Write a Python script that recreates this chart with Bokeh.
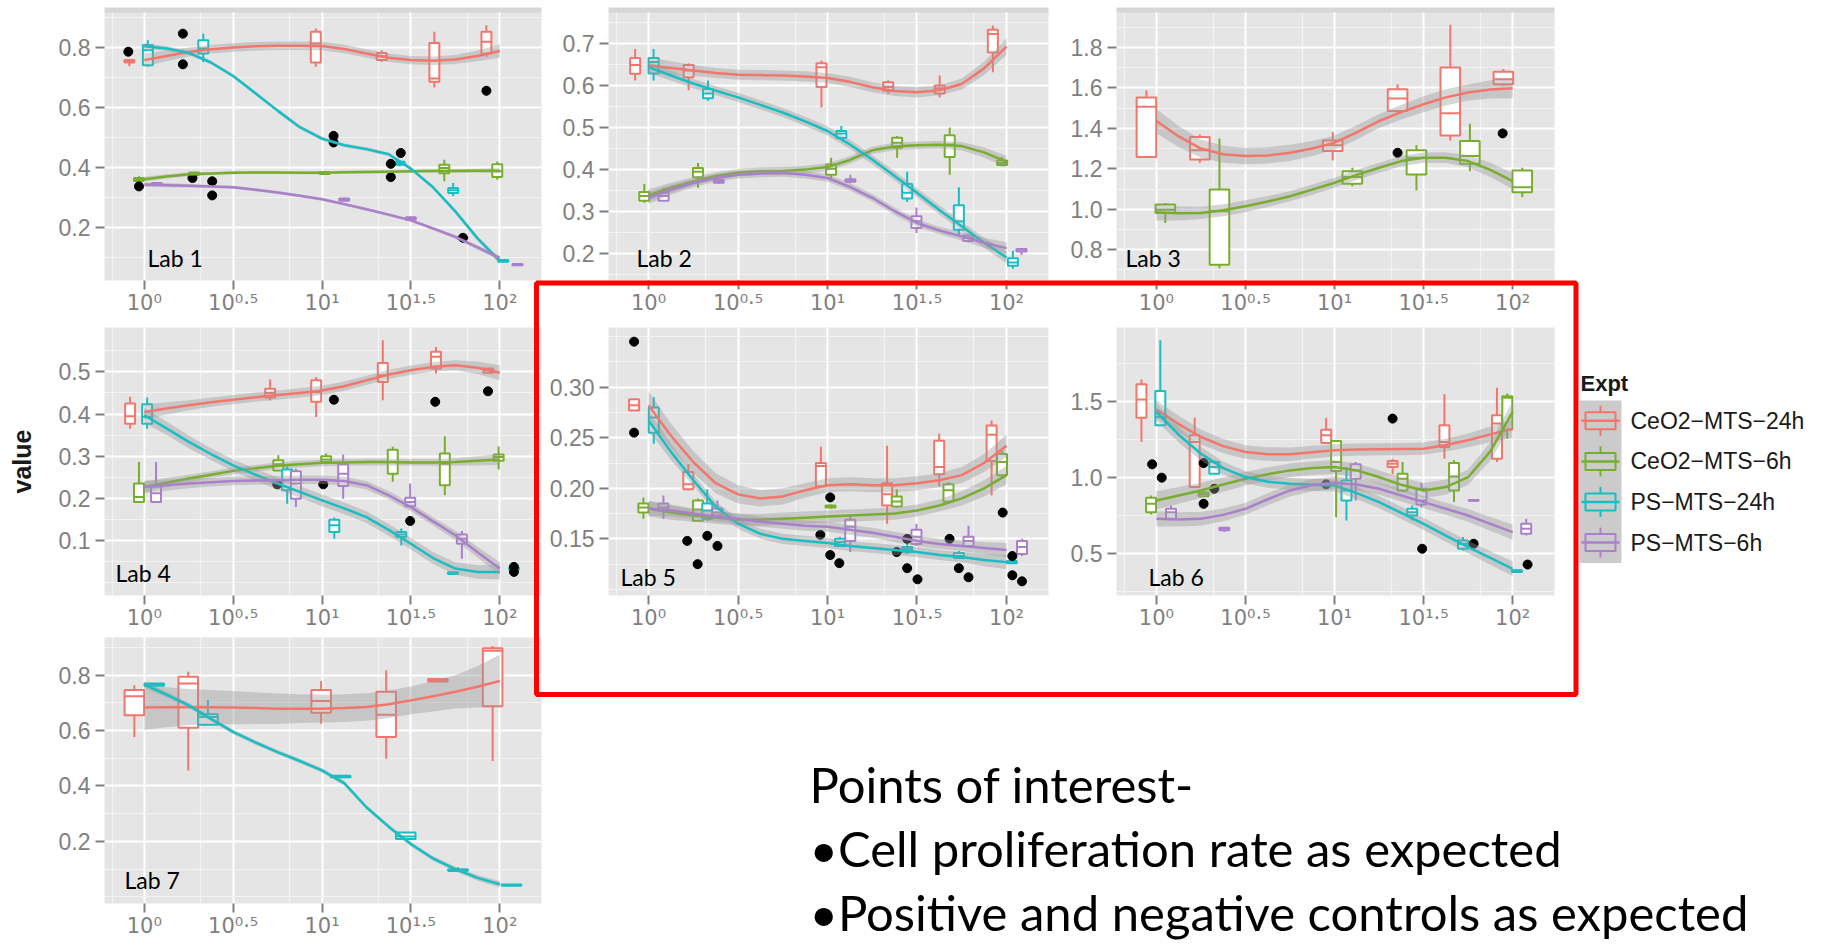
from math import log10

from bokeh.core.properties import value
from bokeh.embed import file_html
from bokeh.layouts import column, row
from bokeh.models import BoxAnnotation, ColumnDataSource, FixedTicker, Label, NumeralTickFormatter, Range1d
from bokeh.plotting import figure
from bokeh.resources import INLINE

# ---------------------------------------------------------------- data
EXPT_LABELS = ["CeO2−MTS−24h", "CeO2−MTS−6h", "PS−MTS−24h", "PS−MTS−6h"]
EXPT_KEYS = ["ceo2_24h", "ceo2_6h", "ps_24h", "ps_6h"]
EXPT_COLORS = ["#F2766C", "#78AE2E", "#17BEC4", "#AA80CC"]

X_TICKS = [0, 0.5, 1, 1.5, 2]                      # log10(dose)
X_TICK_LABELS = ["10⁰", "10⁰·⁵", "10¹", "10¹·⁵", "10²"]
FIT_LOGDOSE = [0, 0.125, 0.25, 0.375, 0.5, 0.625, 0.75, 0.875, 1.0,
               1.125, 1.25, 1.375, 1.5, 1.625, 1.75, 1.875, 2.0]

# box rows: (log10 dose, lower whisker, Q1, median, Q3, upper whisker)
LAB1_BOXES = {
    "ceo2_24h": [(-0.084, 0.738, 0.750, 0.755, 0.758, 0.760), (0.965, 0.736, 0.750, 0.813, 0.852, 0.863),
                 (1.336, 0.752, 0.758, 0.771, 0.782, 0.791), (1.632, 0.667, 0.686, 0.697, 0.815, 0.852),
                 (1.925, 0.769, 0.780, 0.819, 0.852, 0.874)],
    "ceo2_6h": [(-0.03, 0.352, 0.356, 0.360, 0.366, 0.372), (0.28, 0.373, 0.376, 0.380, 0.384, 0.387),
                (1.015, 0.376, 0.379, 0.382, 0.385, 0.389), (1.688, 0.355, 0.382, 0.399, 0.410, 0.427),
                (1.986, 0.360, 0.369, 0.388, 0.412, 0.421)],
    "ps_24h": [(0.02, 0.736, 0.741, 0.791, 0.808, 0.824), (0.332, 0.752, 0.780, 0.797, 0.824, 0.846),
               (1.437, 0.405, 0.410, 0.415, 0.420, 0.425), (1.738, 0.305, 0.316, 0.325, 0.333, 0.349),
               (2.02, 0.085, 0.087, 0.090, 0.093, 0.096)],
    "ps_6h": [(0.07, 0.343, 0.345, 0.347, 0.349, 0.351), (1.125, 0.288, 0.290, 0.294, 0.298, 0.300),
              (1.50, 0.224, 0.227, 0.231, 0.235, 0.238), (1.79, 0.162, 0.165, 0.167, 0.169, 0.172),
              (2.10, 0.074, 0.076, 0.078, 0.080, 0.082)],
}
LAB1_FIT = {
    "ceo2_24h": [0.758, 0.772, 0.785, 0.794, 0.800, 0.804, 0.806, 0.806, 0.805, 0.795, 0.780, 0.766, 0.758,
                 0.756, 0.760, 0.772, 0.788],
    "ceo2_6h": [0.362, 0.371, 0.378, 0.381, 0.383, 0.384, 0.384, 0.383, 0.383, 0.385, 0.386, 0.387, 0.388,
                0.389, 0.389, 0.390, 0.390],
    "ps_24h": [0.804, 0.797, 0.782, 0.750, 0.705, 0.648, 0.590, 0.535, 0.497, 0.475, 0.462, 0.445, 0.397,
               0.335, 0.255, 0.165, 0.090],
    "ps_6h": [0.344, 0.342, 0.340, 0.338, 0.335, 0.327, 0.318, 0.307, 0.295, 0.279, 0.262, 0.244, 0.225,
              0.198, 0.170, 0.135, 0.100],
}
LAB1_BAND = {
    "ceo2_24h": [0.022, 0.018, 0.015, 0.014, 0.014, 0.014, 0.014, 0.014, 0.014, 0.014, 0.014, 0.014, 0.014,
                 0.014, 0.015, 0.018, 0.022],
    "ceo2_6h": [0.008, 0.007, 0.006, 0.005, 0.005, 0.005, 0.005, 0.005, 0.005, 0.005, 0.005, 0.005, 0.005,
                0.005, 0.006, 0.007, 0.008],
    "ps_24h": [0.010, 0.008, 0.007, 0.006, 0.006, 0.006, 0.006, 0.006, 0.006, 0.006, 0.006, 0.006, 0.006,
               0.006, 0.007, 0.008, 0.010],
    "ps_6h": [0.008, 0.007, 0.006, 0.005, 0.005, 0.005, 0.005, 0.005, 0.005, 0.005, 0.005, 0.005, 0.005,
              0.005, 0.006, 0.007, 0.008],
}
LAB1_OUT_X = [-0.09, -0.03, 0.217, 0.217, 0.271, 0.382, 0.382, 1.065, 1.065, 1.387, 1.387, 1.443, 1.793, 1.925]
LAB1_OUT_Y = [0.786, 0.338, 0.846, 0.744, 0.366, 0.355, 0.308, 0.506, 0.484, 0.413, 0.369, 0.449, 0.167, 0.656]

LAB2_BOXES = {
    "ceo2_24h": [(-0.075, 0.611, 0.627, 0.648, 0.665, 0.686), (0.224, 0.588, 0.619, 0.635, 0.648, 0.652),
                 (0.966, 0.547, 0.596, 0.643, 0.652, 0.659), (1.339, 0.579, 0.587, 0.596, 0.607, 0.612),
                 (1.627, 0.571, 0.580, 0.593, 0.599, 0.623), (1.924, 0.631, 0.678, 0.722, 0.732, 0.742)],
    "ceo2_6h": [(-0.024, 0.320, 0.325, 0.336, 0.346, 0.365), (0.276, 0.356, 0.381, 0.394, 0.403, 0.415),
                (1.020, 0.375, 0.387, 0.401, 0.411, 0.427), (1.389, 0.427, 0.451, 0.463, 0.475, 0.479),
                (1.683, 0.387, 0.429, 0.459, 0.481, 0.499), (1.976, 0.407, 0.410, 0.415, 0.421, 0.429)],
    "ps_24h": [(0.028, 0.611, 0.628, 0.655, 0.665, 0.686), (0.332, 0.563, 0.569, 0.580, 0.591, 0.611),
               (1.077, 0.471, 0.474, 0.485, 0.491, 0.503), (1.445, 0.322, 0.330, 0.344, 0.365, 0.394),
               (1.734, 0.240, 0.256, 0.276, 0.314, 0.357), (2.036, 0.163, 0.170, 0.178, 0.188, 0.206)],
    "ps_6h": [(0.084, 0.324, 0.325, 0.336, 0.344, 0.356), (0.392, 0.366, 0.368, 0.371, 0.374, 0.376),
              (1.128, 0.368, 0.370, 0.373, 0.376, 0.387), (1.497, 0.248, 0.260, 0.276, 0.288, 0.309),
              (1.786, 0.226, 0.229, 0.236, 0.242, 0.245), (2.084, 0.196, 0.204, 0.208, 0.210, 0.211)],
}
LAB2_FIT = {
    "ceo2_24h": [0.647, 0.641, 0.635, 0.629, 0.625, 0.624, 0.623, 0.621, 0.617, 0.608, 0.595, 0.586, 0.583,
                 0.588, 0.603, 0.640, 0.692],
    "ceo2_6h": [0.338, 0.356, 0.371, 0.384, 0.392, 0.395, 0.396, 0.399, 0.405, 0.422, 0.445, 0.454, 0.457,
                0.458, 0.455, 0.440, 0.418],
    "ps_24h": [0.643, 0.623, 0.604, 0.587, 0.571, 0.553, 0.535, 0.514, 0.491, 0.459, 0.423, 0.384, 0.344,
               0.303, 0.264, 0.225, 0.190],
    "ps_6h": [0.332, 0.351, 0.367, 0.379, 0.387, 0.390, 0.391, 0.387, 0.379, 0.358, 0.332, 0.300, 0.272,
              0.254, 0.240, 0.225, 0.212],
}
LAB2_BAND = {
    "ceo2_24h": [0.020, 0.016, 0.013, 0.012, 0.012, 0.012, 0.012, 0.012, 0.012, 0.012, 0.012, 0.012, 0.012,
                 0.012, 0.013, 0.016, 0.020],
    "ceo2_6h": [0.014, 0.012, 0.010, 0.009, 0.009, 0.009, 0.009, 0.009, 0.009, 0.009, 0.009, 0.009, 0.009,
                0.009, 0.010, 0.012, 0.014],
    "ps_24h": [0.014, 0.012, 0.011, 0.011, 0.011, 0.011, 0.011, 0.011, 0.011, 0.011, 0.011, 0.011, 0.011,
               0.011, 0.011, 0.012, 0.014],
    "ps_6h": [0.014, 0.012, 0.010, 0.009, 0.009, 0.009, 0.009, 0.009, 0.009, 0.009, 0.009, 0.009, 0.009,
              0.009, 0.010, 0.012, 0.014],
}
LAB2_OUT_X = []
LAB2_OUT_Y = []

LAB3_BOXES = {
    "ceo2_24h": [(-0.056, 1.258, 1.258, 1.506, 1.552, 1.588), (0.244, 1.230, 1.246, 1.291, 1.357, 1.370),
                 (0.99, 1.241, 1.288, 1.316, 1.340, 1.382), (1.354, 1.469, 1.486, 1.547, 1.593, 1.618),
                 (1.65, 1.340, 1.365, 1.474, 1.701, 1.912), (1.948, 1.610, 1.618, 1.643, 1.679, 1.693)],
    "ceo2_6h": [(0.05, 0.932, 0.982, 0.998, 1.023, 1.031), (0.354, 0.709, 0.726, 0.990, 1.098, 1.350),
                (1.10, 1.114, 1.126, 1.160, 1.188, 1.205), (1.46, 1.093, 1.172, 1.255, 1.291, 1.317),
                (1.76, 1.188, 1.225, 1.263, 1.337, 1.423), (2.054, 1.059, 1.084, 1.109, 1.192, 1.205)],
}
LAB3_FIT = {
    "ceo2_24h": [1.436, 1.360, 1.300, 1.272, 1.263, 1.266, 1.279, 1.300, 1.329, 1.380, 1.436, 1.480, 1.519,
                 1.553, 1.577, 1.592, 1.598],
    "ceo2_6h": [0.985, 0.980, 0.982, 0.995, 1.015, 1.038, 1.064, 1.097, 1.131, 1.170, 1.205, 1.238, 1.255,
                1.255, 1.238, 1.195, 1.139],
}
LAB3_BAND = {
    "ceo2_24h": [0.060, 0.052, 0.045, 0.042, 0.040, 0.040, 0.040, 0.037, 0.035, 0.035, 0.035, 0.037, 0.040,
                 0.040, 0.040, 0.045, 0.050],
    "ceo2_6h": [0.040, 0.035, 0.030, 0.030, 0.030, 0.027, 0.025, 0.025, 0.025, 0.025, 0.025, 0.025, 0.025,
                0.027, 0.030, 0.035, 0.040],
}
LAB3_OUT_X = [1.354, 1.944]
LAB3_OUT_Y = [1.279, 1.375]

LAB4_BOXES = {
    "ceo2_24h": [(-0.08, 0.365, 0.377, 0.395, 0.425, 0.441), (0.708, 0.433, 0.439, 0.450, 0.460, 0.482),
                 (0.967, 0.393, 0.429, 0.452, 0.480, 0.488), (1.342, 0.433, 0.476, 0.492, 0.521, 0.575),
                 (1.641, 0.496, 0.508, 0.536, 0.548, 0.559), (1.936, 0.496, 0.498, 0.504, 0.508, 0.510)],
    "ceo2_6h": [(-0.03, 0.191, 0.191, 0.203, 0.235, 0.286), (0.754, 0.266, 0.266, 0.281, 0.290, 0.302),
                (1.023, 0.281, 0.286, 0.292, 0.300, 0.306), (1.398, 0.239, 0.258, 0.286, 0.315, 0.322),
                (1.691, 0.207, 0.231, 0.282, 0.306, 0.347), (1.994, 0.268, 0.289, 0.298, 0.304, 0.323)],
    "ps_24h": [(0.016, 0.365, 0.377, 0.393, 0.423, 0.439), (0.804, 0.187, 0.219, 0.243, 0.268, 0.276),
               (1.069, 0.104, 0.120, 0.136, 0.149, 0.154), (1.446, 0.088, 0.108, 0.114, 0.120, 0.128),
               (1.737, 0.019, 0.020, 0.022, 0.024, 0.026), (2.08, 0.030, 0.031, 0.033, 0.035, 0.036)],
    "ps_6h": [(0.066, 0.191, 0.191, 0.212, 0.228, 0.286), (0.853, 0.179, 0.199, 0.235, 0.264, 0.270),
              (1.119, 0.199, 0.229, 0.258, 0.281, 0.304), (1.496, 0.179, 0.181, 0.191, 0.201, 0.235),
              (1.787, 0.056, 0.092, 0.104, 0.114, 0.122)],
}
LAB4_FIT = {
    "ceo2_24h": [0.405, 0.413, 0.421, 0.428, 0.434, 0.440, 0.445, 0.450, 0.456, 0.466, 0.480, 0.494, 0.504,
                 0.512, 0.516, 0.510, 0.498],
    "ceo2_6h": [0.227, 0.237, 0.247, 0.256, 0.265, 0.271, 0.277, 0.281, 0.284, 0.285, 0.286, 0.286, 0.285,
                0.285, 0.286, 0.289, 0.292],
    "ps_24h": [0.397, 0.366, 0.334, 0.305, 0.278, 0.256, 0.235, 0.215, 0.195, 0.176, 0.155, 0.125, 0.092,
               0.058, 0.033, 0.025, 0.025],
    "ps_6h": [0.227, 0.231, 0.235, 0.238, 0.241, 0.242, 0.243, 0.244, 0.244, 0.241, 0.231, 0.207, 0.179,
              0.145, 0.112, 0.072, 0.033],
}
LAB4_BAND = {
    "ceo2_24h": [0.018, 0.015, 0.012, 0.011, 0.011, 0.011, 0.011, 0.011, 0.011, 0.011, 0.011, 0.011, 0.011,
                 0.011, 0.012, 0.015, 0.018],
    "ceo2_6h": [0.013, 0.011, 0.009, 0.008, 0.008, 0.008, 0.008, 0.008, 0.008, 0.008, 0.008, 0.008, 0.008,
                0.008, 0.009, 0.011, 0.013],
    "ps_24h": [0.018, 0.016, 0.015, 0.014, 0.014, 0.014, 0.014, 0.014, 0.014, 0.014, 0.014, 0.014, 0.014,
               0.014, 0.015, 0.016, 0.018],
    "ps_6h": [0.015, 0.013, 0.011, 0.010, 0.010, 0.010, 0.010, 0.010, 0.010, 0.010, 0.010, 0.010, 0.010,
              0.010, 0.011, 0.013, 0.015],
}
LAB4_OUT_X = [1.067, 1.637, 1.934, 0.748, 1.007, 1.496, 2.08, 2.08]
LAB4_OUT_Y = [0.434, 0.429, 0.454, 0.233, 0.233, 0.146, 0.037, 0.025]

LAB5_BOXES = {
    "ceo2_24h": [(-0.081, 0.277, 0.277, 0.282, 0.288, 0.288), (0.222, 0.198, 0.199, 0.204, 0.216, 0.224),
                 (0.963, 0.201, 0.202, 0.222, 0.225, 0.241), (1.333, 0.165, 0.183, 0.194, 0.205, 0.242),
                 (1.624, 0.202, 0.214, 0.221, 0.247, 0.254), (1.917, 0.193, 0.227, 0.253, 0.262, 0.267)],
    "ceo2_6h": [(-0.029, 0.170, 0.176, 0.181, 0.185, 0.191), (0.276, 0.167, 0.168, 0.179, 0.188, 0.190),
                (1.017, 0.180, 0.181, 0.182, 0.183, 0.184), (1.387, 0.181, 0.182, 0.187, 0.192, 0.199),
                (1.676, 0.185, 0.187, 0.198, 0.204, 0.206), (1.975, 0.212, 0.213, 0.226, 0.234, 0.237)],
    "ps_24h": [(0.029, 0.244, 0.255, 0.270, 0.280, 0.290), (0.328, 0.168, 0.170, 0.178, 0.185, 0.199),
               (1.069, 0.143, 0.143, 0.147, 0.150, 0.152), (1.445, 0.135, 0.137, 0.140, 0.142, 0.145),
               (1.734, 0.130, 0.131, 0.133, 0.136, 0.138), (2.03, 0.126, 0.126, 0.127, 0.128, 0.128)],
    "ps_6h": [(0.083, 0.170, 0.178, 0.181, 0.185, 0.193), (0.385, 0.170, 0.173, 0.176, 0.180, 0.188),
              (1.127, 0.137, 0.148, 0.162, 0.169, 0.174), (1.497, 0.143, 0.145, 0.152, 0.159, 0.165),
              (1.788, 0.141, 0.143, 0.148, 0.152, 0.163), (2.087, 0.133, 0.135, 0.142, 0.148, 0.150)],
}
LAB5_FIT = {
    "ceo2_24h": [0.282, 0.252, 0.226, 0.205, 0.194, 0.190, 0.192, 0.198, 0.203, 0.204, 0.203, 0.203, 0.205,
                 0.208, 0.213, 0.225, 0.242],
    "ceo2_6h": [0.180, 0.176, 0.173, 0.171, 0.169, 0.169, 0.170, 0.171, 0.172, 0.173, 0.174, 0.175, 0.178,
                0.183, 0.190, 0.200, 0.213],
    "ps_24h": [0.267, 0.236, 0.208, 0.182, 0.165, 0.155, 0.150, 0.148, 0.146, 0.143, 0.141, 0.139, 0.137,
               0.134, 0.132, 0.129, 0.127],
    "ps_6h": [0.180, 0.178, 0.175, 0.172, 0.170, 0.167, 0.165, 0.163, 0.162, 0.159, 0.156, 0.152, 0.148,
              0.145, 0.143, 0.141, 0.139],
}
LAB5_BAND = {
    "ceo2_24h": [0.014, 0.012, 0.011, 0.010, 0.009, 0.008, 0.008, 0.007, 0.007, 0.007, 0.007, 0.007, 0.007,
                 0.007, 0.008, 0.009, 0.011],
    "ceo2_6h": [0.008, 0.007, 0.006, 0.006, 0.006, 0.006, 0.006, 0.006, 0.006, 0.006, 0.006, 0.006, 0.006,
                0.006, 0.007, 0.008, 0.009],
    "ps_24h": [0.010, 0.008, 0.006, 0.005, 0.005, 0.005, 0.005, 0.005, 0.005, 0.005, 0.005, 0.005, 0.005,
               0.005, 0.005, 0.006, 0.007],
    "ps_6h": [0.007, 0.006, 0.005, 0.005, 0.005, 0.005, 0.005, 0.005, 0.005, 0.005, 0.005, 0.005, 0.005,
              0.005, 0.005, 0.006, 0.007],
}
LAB5_OUT_X = [-0.081, -0.081, 0.216, 0.274, 0.328, 0.385, 0.96, 1.015, 1.015, 1.066, 1.387, 1.445, 1.445,
              1.503, 1.682, 1.734, 1.788, 1.979, 2.033, 2.033, 2.087]
LAB5_OUT_Y = [0.345, 0.255, 0.148, 0.125, 0.153, 0.143, 0.154, 0.191, 0.134, 0.126, 0.137, 0.150, 0.121,
              0.110, 0.150, 0.121, 0.112, 0.176, 0.133, 0.114, 0.108]

LAB6_BOXES = {
    "ceo2_24h": [(-0.084, 1.232, 1.392, 1.511, 1.612, 1.643), (0.215, 0.935, 0.935, 1.232, 1.276, 1.392),
                 (0.953, 1.225, 1.225, 1.276, 1.313, 1.392), (1.326, 1.019, 1.067, 1.089, 1.107, 1.122),
                 (1.617, 1.122, 1.199, 1.232, 1.342, 1.546), (1.912, 1.100, 1.122, 1.353, 1.408, 1.590)],
    "ceo2_6h": [(-0.03, 0.755, 0.770, 0.825, 0.865, 0.880), (0.265, 0.870, 0.875, 0.887, 0.900, 0.905),
                (1.009, 0.737, 1.041, 1.100, 1.238, 1.243), (1.382, 0.902, 0.913, 0.990, 1.023, 1.100),
                (1.671, 0.836, 0.913, 1.005, 1.093, 1.111), (1.970, 1.254, 1.313, 1.524, 1.533, 1.551)],
    "ps_24h": [(0.022, 1.342, 1.342, 1.397, 1.568, 1.902), (0.325, 1.023, 1.023, 1.067, 1.100, 1.111),
               (1.067, 0.715, 0.847, 0.913, 0.979, 1.067), (1.436, 0.715, 0.748, 0.770, 0.792, 0.814),
               (1.721, 0.518, 0.529, 0.562, 0.584, 0.606), (2.024, 0.370, 0.375, 0.381, 0.387, 0.392)],
    "ps_6h": [(0.082, 0.715, 0.726, 0.770, 0.792, 0.814), (0.381, 0.640, 0.650, 0.660, 0.668, 0.672),
              (1.119, 0.847, 0.990, 1.045, 1.085, 1.100), (1.488, 0.803, 0.821, 0.847, 0.924, 0.962),
              (1.781, 0.843, 0.845, 0.847, 0.850, 0.852), (2.076, 0.616, 0.627, 0.660, 0.693, 0.726)],
}
LAB6_FIT = {
    "ceo2_24h": [1.445, 1.350, 1.265, 1.205, 1.166, 1.152, 1.151, 1.165, 1.177, 1.182, 1.184, 1.185, 1.188,
                 1.212, 1.243, 1.282, 1.320],
    "ceo2_6h": [0.847, 0.880, 0.913, 0.952, 0.990, 1.020, 1.045, 1.060, 1.067, 1.045, 1.001, 0.950, 0.913,
                0.935, 1.000, 1.170, 1.430],
    "ps_24h": [1.430, 1.280, 1.155, 1.060, 1.001, 0.970, 0.957, 0.950, 0.946, 0.895, 0.836, 0.765, 0.693,
               0.615, 0.540, 0.468, 0.397],
    "ps_6h": [0.726, 0.722, 0.726, 0.752, 0.792, 0.855, 0.913, 0.948, 0.964, 0.952, 0.924, 0.880, 0.836,
              0.792, 0.748, 0.693, 0.638],
}
LAB6_BAND = {
    "ceo2_24h": [0.060, 0.055, 0.050, 0.047, 0.045, 0.045, 0.045, 0.042, 0.040, 0.040, 0.040, 0.040, 0.040,
                 0.042, 0.045, 0.052, 0.060],
    "ceo2_6h": [0.060, 0.055, 0.050, 0.047, 0.045, 0.045, 0.045, 0.045, 0.045, 0.045, 0.045, 0.047, 0.050,
                0.050, 0.050, 0.060, 0.070],
    "ps_24h": [0.060, 0.052, 0.045, 0.042, 0.040, 0.040, 0.040, 0.040, 0.040, 0.040, 0.040, 0.040, 0.040,
               0.040, 0.040, 0.045, 0.050],
    "ps_6h": [0.050, 0.047, 0.045, 0.042, 0.040, 0.040, 0.040, 0.040, 0.040, 0.040, 0.040, 0.040, 0.040,
              0.040, 0.042, 0.045, 0.050],
}
LAB6_OUT_X = [-0.024, 0.03, 0.265, 0.265, 0.325, 0.953, 1.326, 1.492, 1.781, 2.084]
LAB6_OUT_Y = [1.085, 0.997, 1.093, 0.825, 0.924, 0.953, 1.386, 0.529, 0.562, 0.425]

LAB7_BOXES = {
    "ceo2_24h": [(-0.056, 0.577, 0.655, 0.724, 0.746, 0.764), (0.247, 0.456, 0.610, 0.770, 0.794, 0.812),
                 (0.995, 0.625, 0.664, 0.707, 0.746, 0.779), (1.361, 0.498, 0.577, 0.657, 0.740, 0.818),
                 (1.652, 0.774, 0.777, 0.782, 0.786, 0.790), (1.96, 0.490, 0.688, 0.888, 0.897, 0.905)],
    "ps_24h": [(0.056, 0.760, 0.762, 0.766, 0.770, 0.772), (0.358, 0.621, 0.621, 0.649, 0.659, 0.709),
               (1.105, 0.428, 0.431, 0.434, 0.437, 0.440), (1.471, 0.208, 0.208, 0.217, 0.232, 0.232),
               (1.765, 0.090, 0.093, 0.096, 0.099, 0.106), (2.066, 0.038, 0.040, 0.042, 0.044, 0.046)],
}
LAB7_FIT = {
    "ceo2_24h": [0.683, 0.684, 0.685, 0.684, 0.683, 0.681, 0.679, 0.679, 0.679, 0.681, 0.685, 0.695, 0.709,
                 0.724, 0.740, 0.758, 0.779],
    "ps_24h": [0.766, 0.730, 0.691, 0.642, 0.595, 0.557, 0.522, 0.490, 0.456, 0.410, 0.323, 0.253, 0.190,
               0.138, 0.100, 0.068, 0.045],
}
LAB7_BAND = {
    "ceo2_24h": [0.080, 0.072, 0.065, 0.062, 0.060, 0.057, 0.055, 0.052, 0.050, 0.050, 0.050, 0.050, 0.050,
                 0.055, 0.060, 0.075, 0.095],
    "ps_24h": [0.012, 0.010, 0.009, 0.008, 0.008, 0.008, 0.008, 0.008, 0.008, 0.008, 0.008, 0.008, 0.008,
               0.008, 0.009, 0.010, 0.012],
}
LAB7_OUT_X = []
LAB7_OUT_Y = []

# y ticks per panel (major, minor, label format)
LAB1_Y_TICKS, LAB1_Y_MINOR, LAB1_Y_FMT = [0.2, 0.4, 0.6, 0.8], [0.1, 0.3, 0.5, 0.7, 0.9], "0.0"
LAB2_Y_TICKS, LAB2_Y_MINOR, LAB2_Y_FMT = [0.2, 0.3, 0.4, 0.5, 0.6, 0.7], [0.15, 0.25, 0.35, 0.45, 0.55, 0.65, 0.75], "0.0"
LAB3_Y_TICKS, LAB3_Y_MINOR, LAB3_Y_FMT = [0.8, 1.0, 1.2, 1.4, 1.6, 1.8], [0.7, 0.9, 1.1, 1.3, 1.5, 1.7, 1.9], "0.0"
LAB4_Y_TICKS, LAB4_Y_MINOR, LAB4_Y_FMT = [0.1, 0.2, 0.3, 0.4, 0.5], [0.0, 0.05, 0.15, 0.25, 0.35, 0.45, 0.55], "0.0"
LAB5_Y_TICKS, LAB5_Y_MINOR, LAB5_Y_FMT = [0.15, 0.20, 0.25, 0.30], [0.10, 0.125, 0.175, 0.225, 0.275, 0.325, 0.35], "0.00"
LAB6_Y_TICKS, LAB6_Y_MINOR, LAB6_Y_FMT = [0.5, 1.0, 1.5], [0.25, 0.75, 1.25, 1.75], "0.0"
LAB7_Y_TICKS, LAB7_Y_MINOR, LAB7_Y_FMT = [0.2, 0.4, 0.6, 0.8], [0.0, 0.1, 0.3, 0.5, 0.7, 0.9], "0.0"

NOTES = ["Points of interest-",
         "•Cell proliferation rate as expected",
         "•Positive and negative controls as expected"]

# ---------------------------------------------------------------- styling / layout
PAGE_W, PAGE_H = 1822, 945
X_RANGE = (-0.224, 2.235)
PANEL_BG = "#E5E5E5"
AXIS_GREY = "#808080"
RIBBON = "#999999"


def x_minor_ticks():
    # grid lines half-way between decades (in dose units), as the log scale does
    ext = [X_TICKS[0] - 0.5] + X_TICKS
    return [log10((10 ** a + 10 ** b) / 2) for a, b in zip(ext[:-1], ext[1:])]


X_MINOR = x_minor_ticks()


def build_panel(name, boxes, fit, band, out_x, out_y, y_range, y_ticks, y_minor, y_fmt,
                frame, borders, label_off, box_w, y_title=None, top_strip=False):
    fw, fh = frame
    bl, br, bt, bb = borders
    p = figure(frame_width=fw, frame_height=fh,
               min_border_left=bl, min_border_right=br, min_border_top=bt, min_border_bottom=bb,
               x_range=Range1d(*X_RANGE), y_range=Range1d(*y_range),
               output_backend="svg", toolbar_location=None)
    p.background_fill_color = PANEL_BG
    p.border_fill_color = "white"
    p.outline_line_color = None

    xt = FixedTicker(ticks=X_TICKS, minor_ticks=X_MINOR)
    yt = FixedTicker(ticks=y_ticks, minor_ticks=y_minor)
    p.xaxis.ticker = xt
    p.xgrid.ticker = xt
    p.yaxis.ticker = yt
    p.ygrid.ticker = yt
    p.xaxis.major_label_overrides = dict(zip(X_TICKS, X_TICK_LABELS))
    p.yaxis.formatter = NumeralTickFormatter(format=y_fmt)

    for ax in (p.xaxis[0], p.yaxis[0]):
        ax.axis_line_color = None
        ax.major_tick_line_color = AXIS_GREY
        ax.major_tick_line_width = 2
        ax.major_tick_out = 9
        ax.major_tick_in = 0
        ax.minor_tick_line_color = None
        ax.major_label_text_color = AXIS_GREY
    p.yaxis.major_label_text_font = "Liberation Sans"
    p.yaxis.major_label_text_font_size = "23px"
    p.yaxis.major_label_standoff = 5
    p.xaxis.major_label_text_font = "DejaVu Sans"
    p.xaxis.major_label_text_font_size = "21px"
    p.xaxis.major_label_standoff = 1
    for g in (p.xgrid[0], p.ygrid[0]):
        g.grid_line_color = "white"
        g.grid_line_width = 2
        g.minor_grid_line_color = "#F3F3F3"
        g.minor_grid_line_width = 1.2

    if y_title:
        p.yaxis.axis_label = y_title
        p.yaxis.axis_label_text_font = "Liberation Sans"
        p.yaxis.axis_label_text_font_style = "bold"
        p.yaxis.axis_label_text_font_size = "25px"
        p.yaxis.axis_label_text_color = "#1A1A1A"
        p.yaxis.axis_label_standoff = 20

    yr0, yr1 = y_range
    if top_strip:
        # remnant of the facet strip along the top edge of the first row
        p.add_layout(BoxAnnotation(top=yr1, bottom=yr1 - 5 / fh * (yr1 - yr0), fill_color="#D6D6D6",
                                   fill_alpha=1.0, line_color=None, level="underlay"))

    # box plots
    for key, rows in boxes.items():
        color = EXPT_COLORS[EXPT_KEYS.index(key)]
        xs = [r[0] for r in rows]
        src = ColumnDataSource(dict(
            left=[x - box_w / 2 for x in xs], right=[x + box_w / 2 for x in xs], x=xs,
            lo=[r[1] for r in rows], q1=[r[2] for r in rows], med=[r[3] for r in rows],
            q3=[r[4] for r in rows], hi=[r[5] for r in rows]))
        p.segment(x0="x", y0="q3", x1="x", y1="hi", source=src, line_color=color, line_width=2)
        p.segment(x0="x", y0="q1", x1="x", y1="lo", source=src, line_color=color, line_width=2)
        p.quad(left="left", right="right", bottom="q1", top="q3", source=src,
               fill_color="white", line_color=color, line_width=2)
        p.segment(x0="left", y0="med", x1="right", y1="med", source=src, line_color=color, line_width=2)
    if out_x:
        p.scatter(out_x, out_y, size=9, color="black")

    # loess fits with their confidence bands
    for key, ys in fit.items():
        color = EXPT_COLORS[EXPT_KEYS.index(key)]
        half = band[key]
        p.varea(x=FIT_LOGDOSE, y1=[y - h for y, h in zip(ys, half)], y2=[y + h for y, h in zip(ys, half)],
                fill_color=RIBBON, fill_alpha=0.4)
        p.line(FIT_LOGDOSE, ys, line_color=color, line_width=2.5, line_join="round")

    # panel caption
    xr0, xr1 = X_RANGE
    p.add_layout(Label(x=xr0 + label_off[0] / fw * (xr1 - xr0), y=yr0 + label_off[1] / fh * (yr1 - yr0),
                       text=name, text_font="Lato", text_font_size="23px", text_color="black",
                       text_baseline="alphabetic"))
    return p


W4, W2 = 0.056, 0.11

f1 = build_panel("Lab 1", LAB1_BOXES, LAB1_FIT, LAB1_BAND, LAB1_OUT_X, LAB1_OUT_Y, (0.025, 0.933),
                 LAB1_Y_TICKS, LAB1_Y_MINOR, LAB1_Y_FMT, (437, 273), (104, 5, 7, 42), (43, 23), W4,
                 top_strip=True)
f2 = build_panel("Lab 2", LAB2_BOXES, LAB2_FIT, LAB2_BAND, LAB2_OUT_X, LAB2_OUT_Y, (0.135, 0.785),
                 LAB2_Y_TICKS, LAB2_Y_MINOR, LAB2_Y_FMT, (440, 273), (62, 6, 7, 42), (28, 23), W4,
                 top_strip=True)
f3 = build_panel("Lab 3", LAB3_BOXES, LAB3_FIT, LAB3_BAND, LAB3_OUT_X, LAB3_OUT_Y, (0.648, 1.997),
                 LAB3_Y_TICKS, LAB3_Y_MINOR, LAB3_Y_FMT, (438, 273), (62, 268, 7, 42), (9, 23), W2,
                 top_strip=True)
f4 = build_panel("Lab 4", LAB4_BOXES, LAB4_FIT, LAB4_BAND, LAB4_OUT_X, LAB4_OUT_Y, (-0.031, 0.6055),
                 LAB4_Y_TICKS, LAB4_Y_MINOR, LAB4_Y_FMT, (437, 268), (104, 5, 5, 40), (11, 23), W4,
                 y_title="value")
f5 = build_panel("Lab 5", LAB5_BOXES, LAB5_FIT, LAB5_BAND, LAB5_OUT_X, LAB5_OUT_Y, (0.094, 0.359),
                 LAB5_Y_TICKS, LAB5_Y_MINOR, LAB5_Y_FMT, (440, 268), (62, 6, 5, 40), (12, 19), W4)
f6 = build_panel("Lab 6", LAB6_BOXES, LAB6_FIT, LAB6_BAND, LAB6_OUT_X, LAB6_OUT_Y, (0.221, 1.986),
                 LAB6_Y_TICKS, LAB6_Y_MINOR, LAB6_Y_FMT, (438, 268), (62, 12, 5, 40), (32, 19), W4)
f7 = build_panel("Lab 7", LAB7_BOXES, LAB7_FIT, LAB7_BAND, LAB7_OUT_X, LAB7_OUT_Y, (-0.0245, 0.936),
                 LAB7_Y_TICKS, LAB7_Y_MINOR, LAB7_Y_FMT, (437, 266), (104, 5, 2, 42), (20, 24), W2)


def build_overlay():
    # page-sized transparent layer: legend, highlight frame and notes
    p = figure(frame_width=PAGE_W, frame_height=PAGE_H, x_range=Range1d(0, PAGE_W), y_range=Range1d(PAGE_H, 0),
               x_axis_type=None, y_axis_type=None, min_border=0,
               output_backend="svg", toolbar_location=None,
               styles={"position": "absolute", "left": "0px", "top": "0px",
                       "z-index": "5", "pointer-events": "none"})
    p.background_fill_color = None
    p.border_fill_color = None
    p.outline_line_color = None

    # highlight frame around Lab 5 / Lab 6
    p.quad(left=[536], right=[1575.5], top=[282.5], bottom=[694], fill_color=None,
           line_color="#FF0000", line_width=5)

    # legend
    n = len(EXPT_LABELS)
    key_top, key_step = 400, 40.6
    p.quad(left=[1579], right=[1621], top=[key_top], bottom=[key_top + n * key_step],
           fill_color="#CBCBCB", line_color=None)
    ys = [key_top + key_step / 2 + i * key_step for i in range(n)]
    src = ColumnDataSource(dict(y=ys, top=[y - 8.5 for y in ys], bot=[y + 8.5 for y in ys],
                                wt=[y - 15 for y in ys], wb=[y + 15 for y in ys], color=EXPT_COLORS))
    p.segment(x0=1600, y0="top", x1=1600, y1="wt", source=src, line_color="color", line_width=2)
    p.segment(x0=1600, y0="bot", x1=1600, y1="wb", source=src, line_color="color", line_width=2)
    p.quad(left=1585, right=1615, top="top", bottom="bot", source=src, fill_color=None,
           line_color="color", line_width=2)
    p.segment(x0=1581, y0="y", x1=1619, y1="y", source=src, line_color="color", line_width=2.5)
    p.text(x=[1630] * n, y=ys, text=EXPT_LABELS, text_font=value("Liberation Sans"),
           text_font_size="23px", text_baseline="middle", text_color="#1A1A1A")
    p.text(x=[1580], y=[383], text=["Expt"], text_font=value("Liberation Sans"), text_font_style="bold",
           text_font_size="22px", text_baseline="middle", text_color="#1A1A1A")

    # notes
    p.text(x=[809] * len(NOTES), y=[783 + 64 * i for i in range(len(NOTES))], text=NOTES,
           text_font=value("Lato"), text_font_size="49px", text_baseline="alphabetic", text_color="black")
    return p


overlay = build_overlay()
page = column(row(f1, f2, f3), row(f4, f5, f6), row(f7), overlay)

open("out.html", "w").write(file_html(page, INLINE))
